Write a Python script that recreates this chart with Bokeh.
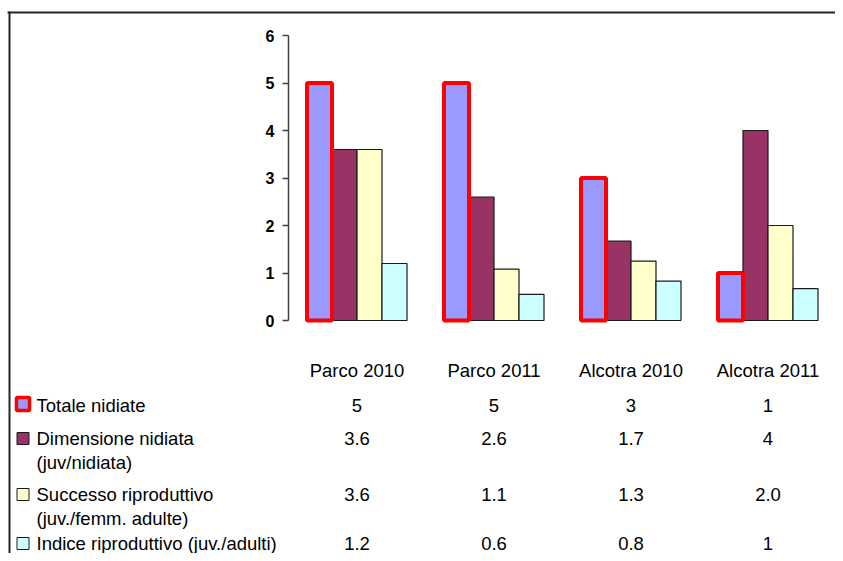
from bokeh.plotting import figure
from bokeh.models import Range1d, FixedTicker, ColumnDataSource
from bokeh.embed import file_html
from bokeh.resources import INLINE
from bokeh.core.properties import value

# ---------------- data ----------------
categories = ["Parco 2010", "Parco 2011", "Alcotra 2010", "Alcotra 2011"]
series_labels = [
    ["Totale nidiate"],
    ["Dimensione nidiata", "(juv/nidiata)"],
    ["Successo riproduttivo", "(juv./femm. adulte)"],
    ["Indice riproduttivo (juv./adulti)"],
]
totale_nidiate = [5, 5, 3, 1]
dimensione_nidiata = [3.6, 2.6, 1.67, 4.0]
successo_riproduttivo = [3.6, 1.08, 1.25, 2.0]
indice_riproduttivo = [1.2, 0.55, 0.83, 0.67]
table_totale = ["5", "5", "3", "1"]
table_dimensione = ["3.6", "2.6", "1.7", "4"]
table_successo = ["3.6", "1.1", "1.3", "2.0"]
table_indice = ["1.2", "0.6", "0.8", "1"]
y_ticks = [0, 1, 2, 3, 4, 5, 6]

# ---------------- geometry / styles ----------------
FONT = "Liberation Sans"
fills = ["#9999FF", "#993366", "#FFFFCC", "#CCFFFF"]
edge = "#1a1a1a"
W, H = 835, 553
# canvas pixel geometry of the plot area
AX_X, RIGHT_X = 288.0, 836.0
ZERO_Y, TOP_Y = 320.0, 35.0
UX = (RIGHT_X - AX_X) / 4.0          # px per category
UY = (ZERO_Y - TOP_Y) / 6.0          # px per value unit

def dx(px):   # canvas x -> data x
    return (px - AX_X) / UX

def dy(py):   # canvas y -> data y
    return (ZERO_Y - py) / UY

p = figure(x_range=Range1d(dx(0), dx(W)), y_range=Range1d(dy(H), dy(0)),
           width=W, height=H, min_border=0,
           x_axis_location=None, y_axis_location="left",
           output_backend="svg", toolbar_location=None)
p.outline_line_color = None
p.xgrid.visible = False
p.ygrid.visible = False
p.background_fill_color = "white"
p.border_fill_color = "white"

ax = p.yaxis[0]
ax.fixed_location = 0
ax.bounds = (0, 6)
ax.ticker = FixedTicker(ticks=y_ticks)
ax.minor_tick_line_color = None
ax.major_tick_in = 0
ax.major_tick_out = 6
ax.axis_line_color = "#404040"
ax.axis_line_width = 1.5
ax.major_tick_line_color = "#404040"
ax.major_tick_line_width = 1.5
ax.major_label_standoff = 8
ax.major_label_text_font = FONT
ax.major_label_text_font_style = "bold"
ax.major_label_text_font_size = "16px"
ax.major_label_text_color = "black"

# chart frame border (top + left)
p.segment(x0=[dx(9), dx(8)], y0=[dy(H), dy(12)], x1=[dx(9), dx(W)], y1=[dy(12), dy(12)],
          line_color="#262626", line_width=2, line_cap="square")

# ---------------- bars ----------------
bw = 25.0 / UX
offsets = [-1.5 * bw, -0.5 * bw, 0.5 * bw, 1.5 * bw]
series = [totale_nidiate, dimensione_nidiata, successo_riproduttivo, indice_riproduttivo]
for k in [1, 2, 3, 0]:
    src = ColumnDataSource(dict(x=[i + 0.5 + offsets[k] for i in range(len(categories))],
                                top=series[k]))
    if k == 0:
        p.vbar(x="x", top="top", bottom=0, width=bw, source=src,
               fill_color=fills[k], line_color="#FF0000", line_width=4)
    else:
        p.vbar(x="x", top="top", bottom=0, width=bw, source=src,
               fill_color=fills[k], line_color=edge, line_width=1.2)

# ---------------- data table ----------------
cx = [i + 0.5 for i in range(len(categories))]
txt = dict(text_font=value(FONT), text_font_size="18.5px", text_baseline="middle",
           text_color="black")
p.text(x=cx, y=[dy(369.5)] * 4, text=categories, text_align="center", **txt)

row_py = [404.5, 437.5, 493.5, 542.5]
line_gap = 24.0
tables = [table_totale, table_dimensione, table_successo, table_indice]
for r, tab in enumerate(tables):
    p.text(x=cx, y=[dy(row_py[r])] * 4, text=tab, text_align="center", **txt)
    for j, lab in enumerate(series_labels[r]):
        p.text(x=[dx(36)], y=[dy(row_py[r] + j * line_gap)], text=[lab],
               text_align="left", **txt)
    if r == 0:
        p.scatter(x=[dx(22.5)], y=[dy(row_py[r] - 1)], marker="square", size=13,
                  fill_color=fills[r], line_color="#FF0000", line_width=3.5)
    else:
        p.scatter(x=[dx(22.5)], y=[dy(row_py[r] + 0.5)], marker="square", size=12,
                  fill_color=fills[r], line_color=edge, line_width=1)

open("out.html", "w").write(file_html(p, INLINE))
